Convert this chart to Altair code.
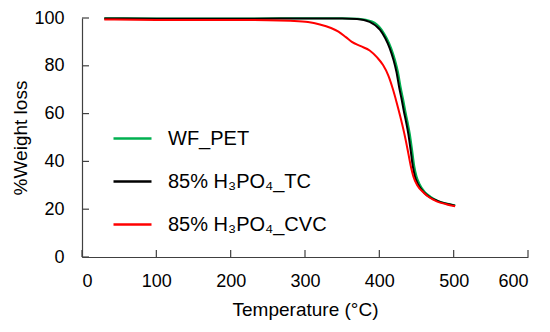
import altair as alt
import pandas as pd

# Series data (temperature in °C, weight %)
T_pet = [30, 100, 200, 300, 350, 372, 390, 403, 410, 416, 421, 425, 429, 432, 435, 438, 441, 444, 447, 450, 454, 461, 469, 478, 490, 502]
W_pet = [99.9, 99.8, 99.8, 99.9, 99.9, 99.7, 98.6, 95.2, 91.5, 87.3, 82.5, 77.5, 70.5, 66, 61, 56.5, 51.5, 45, 38, 33.8, 30.6, 27.2, 25.2, 23.6, 22.4, 21.6]

T_tc = [30, 100, 200, 300, 350, 370, 387, 401, 408, 414, 419, 423, 427, 430, 433, 436, 439, 442, 445, 448, 452, 460, 468, 478, 490, 502]
W_tc = [99.8, 99.7, 99.7, 99.8, 99.8, 99.6, 98.4, 95.0, 91.5, 87.3, 82.5, 77.5, 70.5, 66, 61, 56.5, 51.5, 45, 38, 33.6, 30.5, 27, 25, 23.5, 22.3, 21.5]

T_cvc = [30, 100, 200, 250, 280, 304, 320, 335, 345, 355, 363, 375, 387, 397, 405, 412, 418, 423, 428, 433, 438, 442, 446, 451, 460, 468, 478, 490, 502]
W_cvc = [99.4, 99.2, 99.2, 99.1, 98.8, 98.3, 97.3, 95.8, 94.3, 92.0, 90.0, 88.2, 86.4, 83.5, 80.3, 76.0, 70.5, 65.0, 59.0, 52.5, 45.0, 38.5, 33.5, 30.0, 26.8, 24.8, 23.2, 22.1, 21.2]

series_names = ["WF_PET", "85% H\u2083PO\u2084_TC", "85% H\u2083PO\u2084_CVC"]
series_colors = ["#00B050", "#000000", "#FF0000"]

x_ticks = [0, 100, 200, 300, 400, 500, 600]
y_ticks = [0, 20, 40, 60, 80, 100]

rows = []
for name, ts, ws in zip(series_names, [T_pet, T_tc, T_cvc], [W_pet, W_tc, W_cvc]):
    for t, w in zip(ts, ws):
        rows.append({"series": name, "T": t, "W": w})
df = pd.DataFrame(rows)

FONT = "Liberation Sans"
AXC = "#404040"

xscale = alt.Scale(domain=[0, 600], nice=False, zero=False)
yscale = alt.Scale(domain=[0, 100], nice=False)

lines = alt.Chart(df).mark_line(strokeWidth=2, interpolate="monotone").encode(
    x=alt.X("T:Q", scale=xscale,
            axis=alt.Axis(title="Temperature  (\u00b0C)", values=x_ticks, grid=False, ticks=False,
                          labelPadding=15, titlePadding=10, domainColor=AXC, domainWidth=1.2)),
    y=alt.Y("W:Q", scale=yscale,
            axis=alt.Axis(title="%Weight loss", values=y_ticks, grid=False, ticks=False,
                          labelPadding=18, titlePadding=3, domainColor=AXC, domainWidth=1.2)),
    color=alt.Color("series:N", sort=series_names,
                    scale=alt.Scale(domain=series_names, range=series_colors),
                    legend=alt.Legend(title=None, orient="none", legendX=30, legendY=100,
                                      symbolType="stroke", symbolSize=1444, symbolStrokeWidth=2.5,
                                      labelFontSize=20, labelFont=FONT, labelColor="#000",
                                      labelOffset=15, rowPadding=12, padding=0, labelLimit=300)),
    order=alt.Order("T:Q"),
)

xt = pd.DataFrame({"t": x_ticks})
yt = pd.DataFrame({"v": y_ticks})

xtick_marks = alt.Chart(xt).mark_rule(color=AXC, strokeWidth=1.2).encode(
    x=alt.X("t:Q", scale=xscale), y=alt.value(239), y2=alt.value(232)
)
ytick_marks = alt.Chart(yt).mark_rule(color=AXC, strokeWidth=1.2).encode(
    y=alt.Y("v:Q", scale=yscale), x=alt.value(0), x2=alt.value(7)
)

chart = alt.layer(lines, xtick_marks, ytick_marks).properties(
    width=446, height=239,
    padding={"left": 74, "top": 10, "right": 10, "bottom": 66},
    autosize=alt.AutoSizeParams(type="none"),
).configure_view(stroke=None).configure_axis(
    labelFont=FONT, labelFontSize=18, labelColor="#000",
    titleFont=FONT, titleFontSize=19, titleColor="#000", titleFontWeight="normal",
)

chart.save("out.html", embed_options={"renderer": "svg", "actions": False})
